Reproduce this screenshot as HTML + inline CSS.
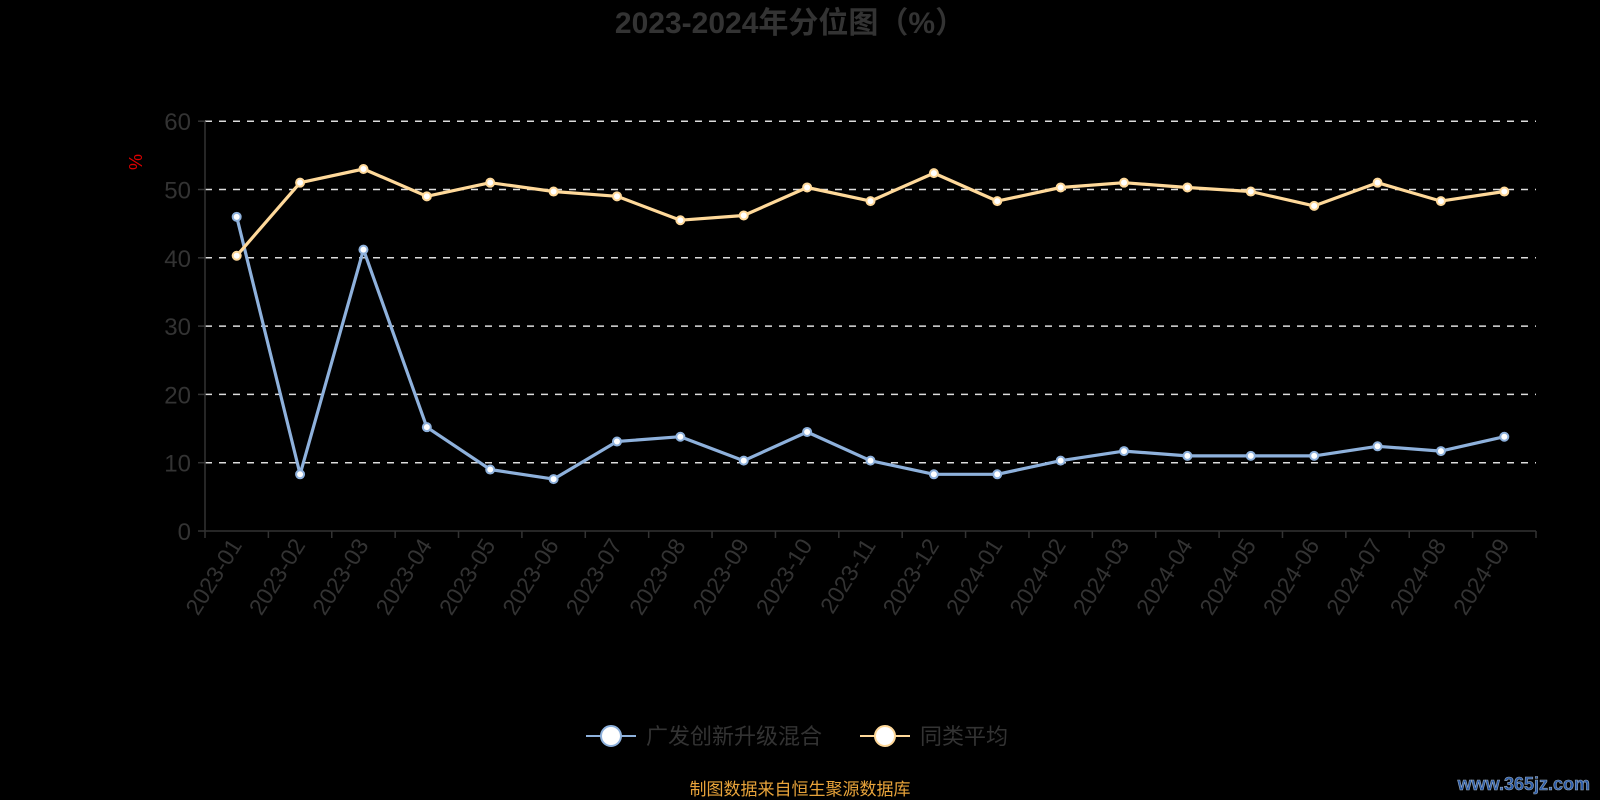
<!DOCTYPE html>
<html><head><meta charset="utf-8"><style>
html,body{margin:0;padding:0;background:#000;}
svg{display:block;font-family:"Liberation Sans","Noto Sans CJK SC",sans-serif;}
</style></head><body>
<svg id="c" width="1600" height="800" viewBox="0 0 1600 800" xmlns="http://www.w3.org/2000/svg">
<rect width="1600" height="800" fill="#000"/>
<text x="790" y="33" text-anchor="middle" font-size="30" font-weight="bold" fill="#333">2023-2024年分位图（%）</text>
<text x="142" y="162" text-anchor="middle" font-size="18" fill="#d00" transform="rotate(-90 142 162)">%</text>
<g id="grid"></g>
<g id="series"></g>
<g id="legend">
<line x1="586" y1="736" x2="636" y2="736" stroke="#8eb1dc" stroke-width="2"/>
<circle cx="611" cy="736" r="10" fill="#fff" stroke="#8eb1dc" stroke-width="2"/>
<text x="646" y="744" font-size="22" fill="#333">广发创新升级混合</text>
<line x1="860" y1="736" x2="910" y2="736" stroke="#ffd99a" stroke-width="2"/>
<circle cx="885" cy="736" r="10" fill="#fff" stroke="#ffd99a" stroke-width="2"/>
<text x="920" y="744" font-size="22" fill="#333">同类平均</text>
</g>
<text x="800" y="795" text-anchor="middle" font-size="17" fill="#e8a33a">制图数据来自恒生聚源数据库</text>
<text x="1590" y="790" text-anchor="end" font-size="18" font-weight="bold" fill="#2a5aa8" stroke="#9ab" stroke-width="0.6">www.365jz.com</text>
</svg>
<script>
var ns="http://www.w3.org/2000/svg";
function el(p,t,a,txt){var e=document.createElementNS(ns,t);for(var k in a)e.setAttribute(k,a[k]);if(txt!=null)e.textContent=txt;p.appendChild(e);return e;}
var g=document.getElementById('grid'),s=document.getElementById('series');
var x0=205,x1=1536,y0=531,k=6.83;
function Y(v){return y0-k*v;}
for(var i=0;i<=6;i++){var y=Y(i*10);
 if(i>0)el(g,'line',{x1:x0,x2:x1,y1:y,y2:y,stroke:'#ddd','stroke-width':1.5,'stroke-dasharray':'7,7'});
 el(g,'line',{x1:x0-7,x2:x0,y1:y,y2:y,stroke:'#333','stroke-width':1.5});
 el(g,'text',{x:x0-14,y:y+9,'text-anchor':'end','font-size':24,fill:'#333'},String(i*10));}
el(g,'line',{x1:x0,x2:x0,y1:Y(60),y2:y0,stroke:'#333','stroke-width':1.5});
el(g,'line',{x1:x0,x2:x1,y1:y0,y2:y0,stroke:'#333','stroke-width':1.5});
var labels=[];for(var m=1;m<=12;m++)labels.push('2023-'+(m<10?'0':'')+m);for(var m=1;m<=9;m++)labels.push('2024-0'+m);
var n=21,bw=(x1-x0)/n;
for(var i=0;i<=n;i++){var x=x0+bw*i;el(g,'line',{x1:x,x2:x,y1:y0,y2:y0+7,stroke:'#333','stroke-width':1.5});}
for(var i=0;i<n;i++){var cx=x0+bw*(i+0.5);
 el(g,'text',{x:cx+6,y:y0+14,'text-anchor':'end','font-size':23,fill:'#333',transform:'rotate(-58 '+(cx+6)+' '+(y0+14)+')'},labels[i]);}
var blue=[46,8.3,41.2,15.2,9,7.6,13.1,13.8,10.3,14.5,10.3,8.3,8.3,10.3,11.7,11,11,11,12.4,11.7,13.8];
var yel=[40.3,51,53,49,51,49.7,49,45.5,46.2,50.3,48.3,52.4,48.3,50.3,51,50.3,49.7,47.6,51,48.3,49.7];
function draw(d,c){var p=d.map(function(v,i){return (x0+bw*(i+0.5)).toFixed(1)+','+Y(v).toFixed(1);}).join(' ');
 el(s,'polyline',{points:p,fill:'none',stroke:c,'stroke-width':3.2,'stroke-linejoin':'round'});
 d.forEach(function(v,i){el(s,'circle',{cx:x0+bw*(i+0.5),cy:Y(v),r:4,fill:'#fff',stroke:c,'stroke-width':2});});}
draw(blue,'#8eb1dc');draw(yel,'#ffd99a');
</script>
</body></html>
